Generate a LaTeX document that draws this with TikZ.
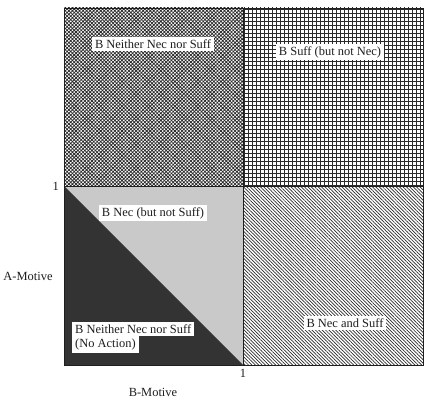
\documentclass[tikz,border=0pt]{standalone}
\usepackage{fontspec}
\setmainfont{Liberation Serif}
\usepackage{tikz}
\usetikzlibrary{patterns.meta,positioning}
\definecolor{mtInk}{HTML}{1E1E1E}
\definecolor{mtHatch}{HTML}{2A2A2A}
\definecolor{mtShade}{HTML}{C9C9C9}
\definecolor{mtDark}{HTML}{333333}
\tikzset{
  mt diagram/.style={font=\fontsize{12.5}{14.5}\selectfont, text=mtInk,
    line cap=butt, line join=miter},
  mt border/.style={draw=mtInk, line width=0.8pt},
  mt crossed/.style={pattern={Hatch[angle=45,distance=2.5bp,line width=0.75bp]},
    pattern color=mtHatch},
  mt grid/.style={pattern={Hatch[angle=0,distance=4bp,line width=0.7bp]},
    pattern color=mtHatch},
  mt striped/.style={pattern={Lines[angle=-45,distance=2.4bp,line width=0.7bp]},
    pattern color=mtHatch},
  mt label/.style={fill=white, inner xsep=3bp, inner ysep=2.5bp, align=center},
  mt tick/.style={inner sep=1pt}
}
\begin{document}
\begin{tikzpicture}[mt diagram,x=1bp,y=1bp]
\useasboundingbox (0,0) rectangle (432,405);
\coordinate (sw) at (64,40);
\coordinate (mid) at (243,219);
\coordinate (ne) at (423,397);
% quadrants
\fill[mt crossed] (sw |- mid) rectangle (mid |- ne);
\fill[mt grid] (mid) rectangle (ne);
\fill[mt striped] (mid |- sw) rectangle (ne |- mid);
\fill[mtShade] (sw) rectangle (mid);
\fill[mtDark] (sw) -- (sw |- mid) -- (mid |- sw) -- cycle;
\draw[mt border] (sw) rectangle (ne);
\draw[mt border] (sw |- mid) -- (ne |- mid);
\draw[mt border] (mid |- sw) -- (mid |- ne);
% region labels
\node[mt label] (neither) at (153,361) {B Neither Nec nor Suff};
\node[mt label] (suff) at (330,353) {B Suff (but not Nec)};
\node[mt label] (nec) at (153,192) {B Nec (but not Suff)};
\node[mt label,anchor=north west] (noact1) at (72,83) {B Neither Nec nor Suff};
\node[mt label,below=0pt of noact1.south west,anchor=north west] (noact2) {(No Action)};
\node[mt label] (both) at (345,82) {B Nec and Suff};
% axes
\node[mt tick,anchor=east,xshift=-4pt] (yone) at (sw |- mid) {1};
\node[mt tick,anchor=north,yshift=-3pt] (xone) at (mid |- sw) {1};
\node (amotive) at (28,129) {A-Motive};
\node (bmotive) at (153,13) {B-Motive};
\end{tikzpicture}
\end{document}
